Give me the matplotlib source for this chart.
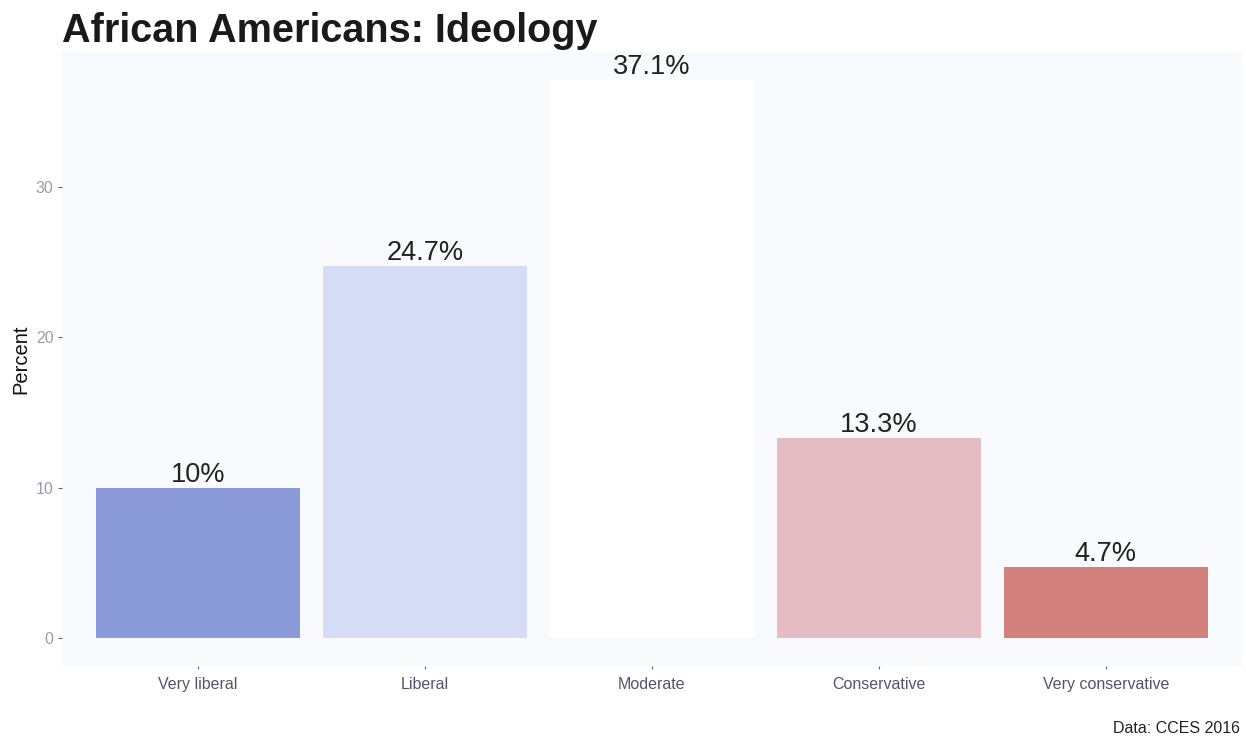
import matplotlib
matplotlib.use("Agg")
import matplotlib.pyplot as plt

categories = ["Very liberal", "Liberal", "Moderate", "Conservative", "Very conservative"]
percents = [10.0, 24.7, 37.1, 13.3, 4.7]
labels = ["10%", "24.7%", "37.1%", "13.3%", "4.7%"]
colors = ["#8b9bd9", "#d5ddf6", "#ffffff", "#e6bcc3", "#d3817c"]
yticks = [0, 10, 20, 30]

plt.rcParams['font.family'] = ['Liberation Sans', 'DejaVu Sans']

fig = plt.figure(figsize=(12.46, 7.40), dpi=100)
fig.patch.set_facecolor("white")
W, H = 1246, 740
left, right, top, bottom = 62, 1242, 52, 666
ax = fig.add_axes([left / W, 1 - bottom / H, (right - left) / W, (bottom - top) / H])
ax.set_facecolor("#f9fafd")

x = list(range(len(categories)))
ax.bar(x, percents, width=0.9, color=colors, edgecolor="none")
for xi, v, lab in zip(x, percents, labels):
    ax.text(xi, v, lab, ha="center", va="bottom", fontsize=19.5, color="#222222")

ymax = max(percents)
ax.set_ylim(-0.05 * ymax, ymax * 1.05)
ax.set_xlim(-0.6, len(categories) - 0.4)
ax.set_xticks(x)
ax.set_xticklabels(categories, fontsize=11.5, color="#55556a")
ax.set_yticks(yticks)
ax.set_yticklabels([str(t) for t in yticks], fontsize=11.5, color="#9a9ab0")
ax.tick_params(axis="x", length=2, width=0.8, color="#666666", pad=6)
ax.tick_params(axis="y", length=3, width=0.8, color="#666666", pad=3)
for s in ax.spines.values():
    s.set_visible(False)
ax.set_ylabel("Percent", fontsize=14.5, color="#111111", labelpad=4)

fig.text(left / W, 1 - 42 / H, "African Americans: Ideology", fontsize=28.5,
         fontweight="bold", color="#1a1a1a", ha="left", va="baseline")
fig.text(1240 / W, 1 - 736 / H, "Data: CCES 2016", fontsize=11.5, color="#222222",
         ha="right", va="bottom")

fig.savefig("out.png", dpi=100, facecolor="white")
